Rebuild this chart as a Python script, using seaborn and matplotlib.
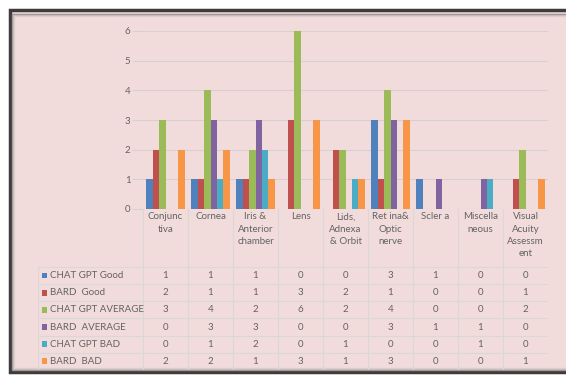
import matplotlib
matplotlib.use("Agg")
import matplotlib.pyplot as plt
import seaborn as sns
import pandas as pd
from matplotlib.patches import Rectangle

# data
categories = ["Conjunctiva", "Cornea", "Iris & Anterior chamber", "Lens",
              "Lids, Adnexa & Orbit", "Retina& Optic nerve", "Sclera",
              "Miscellaneous", "Visual Acuity Assessment"]
cat_labels = ["Conjunc\ntiva", "Cornea", "Iris &\nAnterior\nchamber", "Lens",
              "Lids,\nAdnexa\n& Orbit", "Ret ina&\nOptic\nnerve", "Scler a",
              "Miscella\nneous", "Visual\nAcuity\nAssessm\nent"]
series = ["CHAT GPT Good", "BARD  Good", "CHAT GPT AVERAGE",
          "BARD  AVERAGE", "CHAT GPT BAD", "BARD  BAD"]
chatgpt_good = [1, 1, 1, 0, 0, 3, 1, 0, 0]
bard_good = [2, 1, 1, 3, 2, 1, 0, 0, 1]
chatgpt_avg = [3, 4, 2, 6, 2, 4, 0, 0, 2]
bard_avg = [0, 3, 3, 0, 0, 3, 1, 1, 0]
chatgpt_bad = [0, 1, 2, 0, 1, 0, 0, 1, 0]
bard_bad = [2, 2, 1, 3, 1, 3, 0, 0, 1]
colors = ["#4F81BD", "#C0504D", "#9BBB59", "#8064A2", "#4BACC6", "#F79646"]

values = [chatgpt_good, bard_good, chatgpt_avg, bard_avg, chatgpt_bad, bard_bad]
rows = []
for s, vals in zip(series, values):
    for c, v in zip(categories, vals):
        rows.append({"category": c, "series": s, "value": v})
df = pd.DataFrame(rows)

W, H = 566, 376
bg = "#F2DCDB"
grid_c = "#D6D0D0"
txt_c = "#636363"
plt.rcParams["font.family"] = ["Lato", "DejaVu Sans"]

fig = plt.figure(figsize=(W / 100, H / 100), dpi=100, facecolor="white")

def box(x0, y0, x1, y1):
    return [x0 / W, 1 - y1 / H, (x1 - x0) / W, (y1 - y0) / H]

# chart frame with a soft inner shadow
fig.patches.append(Rectangle((10 / W, 1 - 372 / H), 570 / W, 362 / H,
                             transform=fig.transFigure, facecolor=bg,
                             edgecolor="#3C3C3C", linewidth=2.5, zorder=-10))
for k, c in enumerate(["#9A9090", "#C4B8B8", "#DDCDCD"]):
    fig.patches.append(Rectangle(((12 + k) / W, 1 - (370 - k) / H), 570 / W,
                                 (356 - 2 * k) / H, transform=fig.transFigure,
                                 facecolor="none", edgecolor=c, linewidth=1,
                                 zorder=-9))

ax = fig.add_axes(box(143, 31, 548, 209))
ax.set_facecolor("none")
sns.barplot(data=df, x="category", y="value", hue="series", order=categories,
            hue_order=series, palette=colors, width=0.85, saturation=1,
            edgecolor="none", legend=False, ax=ax)
ax.set_ylim(0, 6)
ax.set_xlim(-0.5, len(categories) - 0.5)
ax.set_yticks(range(0, 7))
ax.grid(axis="y", color=grid_c, linewidth=0.8)
ax.set_axisbelow(True)
ax.tick_params(axis="y", length=8, color=grid_c, labelsize=7, labelcolor=txt_c, pad=1)
ax.tick_params(axis="x", length=0, labelbottom=False)
ax.set_xlabel("")
ax.set_ylabel("")
for sp in ax.spines.values():
    sp.set_visible(False)

# data table below the chart
head_h = (267 - 209) / 17.2
tx = fig.add_axes(box(38, 209, 548, 370))
tx.set_facecolor("none")
left = -(143 - 38) / 45
tx.set_xlim(left, len(categories))
tx.set_ylim(len(series), -head_h)
tx.axis("off")
lc = "#D8D8D8"
for i in range(len(categories) + 1):
    tx.plot([i, i], [-head_h, len(series)], color=lc, lw=0.8)
tx.plot([left, left], [0, len(series)], color=lc, lw=0.8)
for j in range(len(series) + 1):
    tx.plot([left, len(categories)], [j, j], color=lc, lw=0.8)
for i, lab in enumerate(cat_labels):
    tx.text(i + 0.5, -head_h + 0.2, lab, ha="center", va="top", fontsize=7,
            color=txt_c, linespacing=1.45)
for j, (s, vals, col) in enumerate(zip(series, values, colors)):
    tx.add_patch(Rectangle((left + 0.09, j + 0.33), 0.12, 0.34, facecolor=col,
                           edgecolor="none"))
    tx.text(left + 0.27, j + 0.5, s, ha="left", va="center", fontsize=7,
            color=txt_c)
    for i, v in enumerate(vals):
        tx.text(i + 0.5, j + 0.5, str(v), ha="center", va="center", fontsize=7,
                color=txt_c)

fig.savefig("out.png", dpi=100, facecolor="white")
